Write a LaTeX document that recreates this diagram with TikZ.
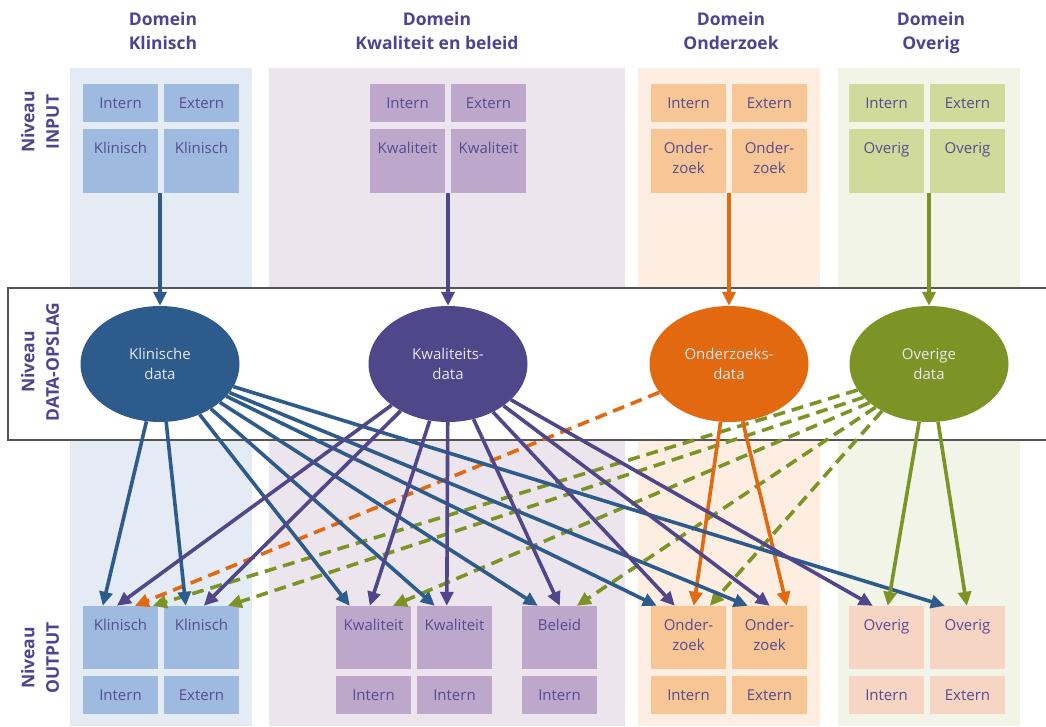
\documentclass[tikz,border=0pt]{standalone}
\usepackage{fontspec}
\setmainfont{Open Sans}
\usetikzlibrary{shapes.geometric,arrows.meta,calc}
\definecolor{klbg}{HTML}{E4EBF4}
\definecolor{kwbg}{HTML}{EDE5EE}
\definecolor{ozbg}{HTML}{FEEEE2}
\definecolor{ovbg}{HTML}{F1F4E7}
\definecolor{klbox}{HTML}{9EBBDF}
\definecolor{kwbox}{HTML}{BDA8CB}
\definecolor{ozbox}{HTML}{F8C594}
\definecolor{ovboxin}{HTML}{D0DA9B}
\definecolor{ovboxout}{HTML}{F6D5C4}
\definecolor{txt}{HTML}{574B91}
\definecolor{ttl}{HTML}{4E4391}
\definecolor{cblue}{HTML}{2D5B8B}
\definecolor{cpurp}{HTML}{50468A}
\definecolor{corng}{HTML}{E2690F}
\definecolor{cgrn}{HTML}{7C9426}
\definecolor{bandline}{HTML}{555555}
\definecolor{elltxt}{HTML}{E8E8F0}
\begin{document}
\begin{tikzpicture}[x=1pt,y=-1pt,
  panel/.style={fill=#1,draw=none},
  box/.style={fill=#1,draw=none,minimum width=75,minimum height=38,inner sep=0,text=txt,font=\fontsize{15}{20}\selectfont},
  tallbox/.style={box=#1,minimum height=64},
  lab/.style={text=txt,font=\fontsize{15}{20}\selectfont,align=center,anchor=north,inner sep=0},
  ttlnode/.style={text=ttl,font=\fontsize{17.5}{24}\selectfont\bfseries,align=center,inner sep=0,anchor=north},
  lvl/.style={text=ttl,font=\fontsize{17.5}{24.5}\selectfont\bfseries,align=center,inner sep=0,rotate=90},
  dataell/.style={ellipse,fill=#1,draw=none,minimum width=159,minimum height=116,inner sep=0,text=elltxt,align=center,font=\fontsize{15}{20}\selectfont},
  arr/.style={draw=#1,line width=3.6pt,-{Triangle[length=14pt,width=13pt]}},
  dsh/.style={dash pattern=on 12pt off 7pt}
]
\useasboundingbox (0,0) rectangle (1046,726);
% panels
\fill[panel=klbg] (70,68) rectangle (252,726);
\fill[panel=kwbg] (269,68) rectangle (625,726);
\fill[panel=ozbg] (638,68) rectangle (820,726);
\fill[panel=ovbg] (838,68) rectangle (1020,726);
% band
\fill[white] (8,288) rectangle (1046,440);
\draw[bandline,line width=1.5pt] (1046,288) -- (8,288) -- (8,440) -- (1046,440);
% titles
\node[ttlnode] (t1) at (163,12) {Domein\\Klinisch};
\node[ttlnode] (t2) at (437,12) {Domein\\Kwaliteit en beleid};
\node[ttlnode] (t3) at (731,12) {Domein\\Onderzoek};
\node[ttlnode] (t4) at (931,12) {Domein\\Overig};
% level labels
\node[lvl] (l1) at (40,122) {Niveau\\INPUT};
\node[lvl] (l2) at (40,362) {Niveau\\DATA-OPSLAG};
\node[lvl] (l3) at (40,658) {Niveau\\OUTPUT};
% input boxes row 1
\node[box=klbox] (ki1) at (120.5,103) {Intern};
\node[box=klbox] (ki2) at (201.5,103) {Extern};
\node[box=kwbox] (qi1) at (407.5,103) {Intern};
\node[box=kwbox] (qi2) at (488.5,103) {Extern};
\node[box=ozbox] (oi1) at (688.5,103) {Intern};
\node[box=ozbox] (oi2) at (769.5,103) {Extern};
\node[box=ovboxin] (vi1) at (886.5,103) {Intern};
\node[box=ovboxin] (vi2) at (967.5,103) {Extern};
% input boxes row 2
\node[tallbox=klbox] (ki3) at (120.5,161) {};
\node[tallbox=klbox] (ki4) at (201.5,161) {};
\node[tallbox=kwbox] (qi3) at (407.5,161) {};
\node[tallbox=kwbox] (qi4) at (488.5,161) {};
\node[tallbox=ozbox] (oi3) at (688.5,161) {};
\node[tallbox=ozbox] (oi4) at (769.5,161) {};
\node[tallbox=ovboxin] (vi3) at (886.5,161) {};
\node[tallbox=ovboxin] (vi4) at (967.5,161) {};
\node[lab] (ki3t) at ($(ki3.north)+(0,13)$) {Klinisch};
\node[lab] (ki4t) at ($(ki4.north)+(0,13)$) {Klinisch};
\node[lab] (qi3t) at ($(qi3.north)+(0,13)$) {Kwaliteit};
\node[lab] (qi4t) at ($(qi4.north)+(0,13)$) {Kwaliteit};
\node[lab] (oi3t) at ($(oi3.north)+(0,13)$) {Onder-\\zoek};
\node[lab] (oi4t) at ($(oi4.north)+(0,13)$) {Onder-\\zoek};
\node[lab] (vi3t) at ($(vi3.north)+(0,13)$) {Overig};
\node[lab] (vi4t) at ($(vi4.north)+(0,13)$) {Overig};
% output boxes row 1
\node[tallbox=klbox,minimum height=63] (ko1) at (120.5,637.5) {};
\node[tallbox=klbox,minimum height=63] (ko2) at (201.5,637.5) {};
\node[tallbox=kwbox,minimum height=63] (qo1) at (373.5,637.5) {};
\node[tallbox=kwbox,minimum height=63] (qo2) at (454.5,637.5) {};
\node[tallbox=kwbox,minimum height=63] (bo1) at (559.5,637.5) {};
\node[tallbox=ozbox,minimum height=63] (oo1) at (688.5,637.5) {};
\node[tallbox=ozbox,minimum height=63] (oo2) at (769.5,637.5) {};
\node[tallbox=ovboxout,minimum height=63] (vo1) at (886.5,637.5) {};
\node[tallbox=ovboxout,minimum height=63] (vo2) at (967.5,637.5) {};
\node[lab] (ko1t) at ($(ko1.north)+(0,13)$) {Klinisch};
\node[lab] (ko2t) at ($(ko2.north)+(0,13)$) {Klinisch};
\node[lab] (qo1t) at ($(qo1.north)+(0,13)$) {Kwaliteit};
\node[lab] (qo2t) at ($(qo2.north)+(0,13)$) {Kwaliteit};
\node[lab] (bo1t) at ($(bo1.north)+(0,13)$) {Beleid};
\node[lab] (oo1t) at ($(oo1.north)+(0,13)$) {Onder-\\zoek};
\node[lab] (oo2t) at ($(oo2.north)+(0,13)$) {Onder-\\zoek};
\node[lab] (vo1t) at ($(vo1.north)+(0,13)$) {Overig};
\node[lab] (vo2t) at ($(vo2.north)+(0,13)$) {Overig};
% output boxes row 2
\node[box=klbox] (ko3) at (120.5,695) {Intern};
\node[box=klbox] (ko4) at (201.5,695) {Extern};
\node[box=kwbox] (qo3) at (373.5,695) {Intern};
\node[box=kwbox] (qo4) at (454.5,695) {Intern};
\node[box=kwbox] (bo2) at (559.5,695) {Intern};
\node[box=ozbox] (oo3) at (688.5,695) {Intern};
\node[box=ozbox] (oo4) at (769.5,695) {Extern};
\node[box=ovboxout] (vo3) at (886.5,695) {Intern};
\node[box=ovboxout] (vo4) at (967.5,695) {Extern};
% ellipses
\node[dataell=cblue] (kd) at (160,364) {Klinische\\data};
\node[dataell=cpurp] (qd) at (448,364) {Kwaliteits-\\data};
\node[dataell=corng] (od) at (729,364) {Onderzoeks-\\data};
\node[dataell=cgrn] (vd) at (929,364) {Overige\\data};
% input connectors
\coordinate (kin) at (160,193);
\coordinate (qin) at (448,193);
\coordinate (oin) at (729,193);
\coordinate (vin) at (929,193);
\draw[arr=cblue] (kin) -- (kd.north);
\draw[arr=cpurp] (qin) -- (qd.north);
\draw[arr=corng] (oin) -- (od.north);
\draw[arr=cgrn] (vin) -- (vd.north);
% green dashed
\draw[arr=cgrn,dsh] (vd.200) -- ($(ko1.north west)+(70,0)$);
\draw[arr=cgrn,dsh] (vd.207) -- ($(ko2.north west)+(64,0)$);
\draw[arr=cgrn,dsh] (vd.213) -- ($(qo1.north west)+(57,0)$);
\draw[arr=cgrn,dsh] (vd.219) -- ($(bo1.north west)+(55,0)$);
\draw[arr=cgrn,dsh] (vd.225) -- ($(oo1.north west)+(59,0)$);
% orange
\draw[arr=corng,dsh] (od) -- ($(ko1.north west)+(52,0)$);
\draw[arr=corng] (od) -- ($(oo1.north west)+(43,0)$);
\draw[arr=corng] (od) -- ($(oo2.north west)+(55,0)$);
% blue
\draw[arr=cblue] (kd) -- ($(ko1.north west)+(20,0)$);
\draw[arr=cblue] (kd) -- ($(ko2.north west)+(22,0)$);
\draw[arr=cblue] (kd) -- ($(qo1.north west)+(14,0)$);
\draw[arr=cblue] (kd) -- ($(qo2.north west)+(18,0)$);
\draw[arr=cblue] (kd) -- ($(bo1.north west)+(16,0)$);
\draw[arr=cblue] (kd) -- ($(oo1.north west)+(6,0)$);
\draw[arr=cblue] (kd) -- ($(oo2.north west)+(16,0)$);
\draw[arr=cblue] (kd) -- ($(vo2.north west)+(15,0)$);
% purple
\draw[arr=cpurp] (qd) -- ($(ko1.north west)+(34,0)$);
\draw[arr=cpurp] (qd) -- ($(ko2.north west)+(40,0)$);
\draw[arr=cpurp] (qd) -- ($(qo1.north west)+(34,0)$);
\draw[arr=cpurp] (qd) -- ($(qo2.north west)+(30,0)$);
\draw[arr=cpurp] (qd) -- ($(bo1.north west)+(38,0)$);
\draw[arr=cpurp] (qd) -- ($(oo1.north west)+(24,0)$);
\draw[arr=cpurp] (qd) -- ($(oo2.north west)+(38,0)$);
\draw[arr=cpurp] (qd) -- ($(vo1.north west)+(24,0)$);
% green solid
\draw[arr=cgrn] (vd) -- ($(vo1.north west)+(39,0)$);
\draw[arr=cgrn] (vd) -- ($(vo2.north west)+(37,0)$);
\end{tikzpicture}
\end{document}
